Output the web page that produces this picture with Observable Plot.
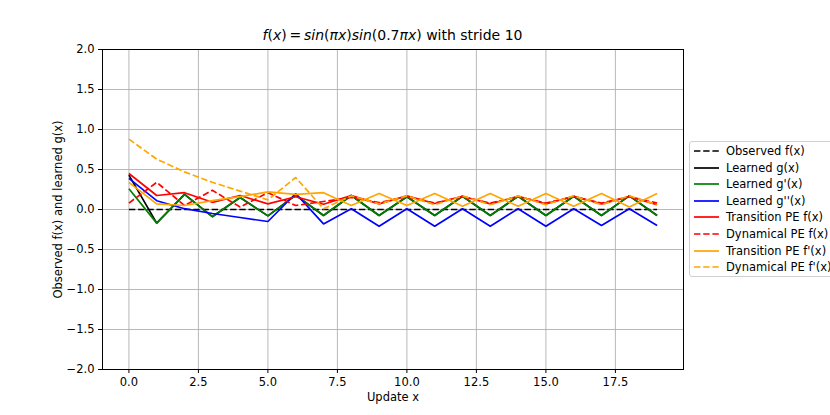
<!DOCTYPE html>
<html>
<head>
<meta charset="utf-8">
<script src="https://cdn.jsdelivr.net/npm/d3@7"></script>
<script src="https://cdn.jsdelivr.net/npm/@observablehq/plot@0.6"></script>
<style>
  body { margin: 0; background: #fff; }
  #wrap { position: relative; width: 830px; height: 415px; font-family: "DejaVu Sans", sans-serif; overflow: hidden; }
  #title { position: absolute; left: 0; width: 785px; text-align: center; top: 27px; font-size: 14px; color: #000; white-space: nowrap; }
  #title i { font-style: italic; }
  #legend { position: absolute; left: 689px; top: 141px; width: 145px; height: 136px; border: 1px solid #d0d0d0; border-radius: 3px; background: rgba(255,255,255,0.8); box-sizing: border-box; }
  .row { position: absolute; left: 0; height: 16px; font-size: 11.5px; white-space: nowrap; }
  .row svg { position: absolute; left: 2px; top: 0; }
  .row span { position: absolute; left: 36px; top: 0; line-height: 16px; }
</style>
</head>
<body>
<div id="wrap">
  <div id="plot"></div>
  <div id="title"><i>f</i>(<i>x</i>)&#8201;=&#8201;<i>sin</i>(<i>πx</i>)<i>sin</i>(0.7<i>πx</i>) with stride 10</div>
  <div id="legend"></div>
</div>
<script>
const xs = [0, 1, 2, 3, 4, 5, 6, 7, 8, 9, 10, 11, 12, 13, 14, 15, 16, 17, 18, 19];
const observed = [0, 0, 0, 0, 0, 0, 0, 0, 0, 0, 0, 0, 0, 0, 0, 0, 0, 0, 0, 0];
const learnedG = [0.43, -0.17, 0.19, -0.09, 0.15, -0.08, 0.18, -0.075, 0.175, -0.075, 0.16, -0.075, 0.165, -0.075, 0.165, -0.075, 0.165, -0.075, 0.17, -0.075];
const learnedG1 = [0.26, -0.17, 0.19, -0.09, 0.15, -0.08, 0.18, -0.075, 0.175, -0.075, 0.16, -0.075, 0.165, -0.075, 0.165, -0.075, 0.165, -0.075, 0.17, -0.075];
const learnedG2 = [0.39, 0.11, 0.01, -0.05, -0.1, -0.15, 0.2, -0.18, 0.01, -0.21, 0.01, -0.21, 0.01, -0.21, 0.01, -0.21, 0.01, -0.2, 0.01, -0.2];
const transPE = [0.45, 0.175, 0.21, 0.09, 0.175, 0.07, 0.16, 0.065, 0.175, 0.07, 0.17, 0.075, 0.165, 0.07, 0.165, 0.07, 0.165, 0.07, 0.16, 0.06];
const dynPE = [0.08, 0.34, 0.05, 0.24, 0.03, 0.21, 0.05, 0.1, 0.15, 0.085, 0.16, 0.08, 0.16, 0.08, 0.16, 0.08, 0.16, 0.08, 0.16, 0.08];
const transPE1 = [0.34, 0.07, 0.05, 0.11, 0.16, 0.22, 0.19, 0.21, 0.05, 0.2, 0.05, 0.2, 0.04, 0.2, 0.04, 0.2, 0.04, 0.2, 0.03, 0.2];
const dynPE1 = [0.88, 0.63, 0.47, 0.34, 0.23, 0.12, 0.40, 0.01, 0.17, 0.07, 0.17, 0.06, 0.17, 0.06, 0.17, 0.06, 0.17, 0.06, 0.17, 0.06];
const xTicks = [0, 2.5, 5, 7.5, 10, 12.5, 15, 17.5];
const yTicks = [-2, -1.5, -1, -0.5, 0, 0.5, 1, 1.5, 2];

const series = [
  {name: "Observed f(x)", values: observed, color: "black", dash: "6.4,2.8"},
  {name: "Learned g(x)", values: learnedG, color: "black", dash: null},
  {name: "Learned g'(x)", values: learnedG1, color: "green", dash: null},
  {name: "Learned g''(x)", values: learnedG2, color: "blue", dash: null},
  {name: "Transition PE f(x)", values: transPE, color: "red", dash: null},
  {name: "Dynamical PE f(x)", values: dynPE, color: "red", dash: "6.4,2.8"},
  {name: "Transition PE f'(x)", values: transPE1, color: "orange", dash: null},
  {name: "Dynamical PE f'(x)", values: dynPE1, color: "orange", dash: "6.4,2.8"}
];

const lineMarks = series.map(s => Plot.line(xs.map((x, i) => ({x, y: s.values[i]})), {
  x: "x", y: "y", stroke: s.color, strokeWidth: 1.7, strokeDasharray: s.dash, strokeLinejoin: "miter", strokeLinecap: "butt"
}));

const chart = Plot.plot({
  width: 830,
  height: 415,
  marginLeft: 102,
  marginRight: 147,
  marginTop: 49,
  marginBottom: 46,
  style: {fontFamily: "DejaVu Sans, sans-serif", fontSize: "11.5px", color: "black", background: "white"},
  x: {domain: [-0.95, 19.95], ticks: xTicks, tickFormat: d3.format(".1f"), tickSize: 4, tickPadding: 4, label: null},
  y: {domain: [-2, 2], ticks: yTicks, tickFormat: d3.format(".1f"), tickSize: 4, tickPadding: 4, label: null},
  marks: [
    Plot.gridX(xTicks, {stroke: "#b0b0b0", strokeOpacity: 1, strokeWidth: 0.9}),
    Plot.gridY(yTicks, {stroke: "#b0b0b0", strokeOpacity: 1, strokeWidth: 0.9}),
    ...lineMarks,
    Plot.axisX({ticks: xTicks, tickFormat: d3.format(".1f"), tickSize: 4, tickPadding: 4, label: null}),
    Plot.axisY({ticks: yTicks, tickFormat: d3.format(".1f"), tickSize: 4, tickPadding: 4, label: null}),
    Plot.frame({stroke: "black", strokeWidth: 1}),
    Plot.text(["Update x"], {frameAnchor: "bottom", dy: 31, fontSize: 11.5, fill: "black"}),
    Plot.text(["Observed f(x) and learned g(x)"], {frameAnchor: "left", dx: -44, rotate: -90, textAnchor: "middle", fontSize: 11.5, fill: "black"})
  ]
});
document.getElementById("plot").appendChild(chart);

const legend = document.getElementById("legend");
series.forEach((s, i) => {
  const row = document.createElement("div");
  row.className = "row";
  row.style.top = (1 + i * 16.6) + "px";
  row.innerHTML = `<svg width="30" height="16"><line x1="2" x2="27" y1="8" y2="8" stroke="${s.color}" stroke-width="1.7" ${s.dash ? `stroke-dasharray="${s.dash}"` : ""}/></svg><span>${s.name}</span>`;
  legend.appendChild(row);
});
</script>
</body>
</html>
